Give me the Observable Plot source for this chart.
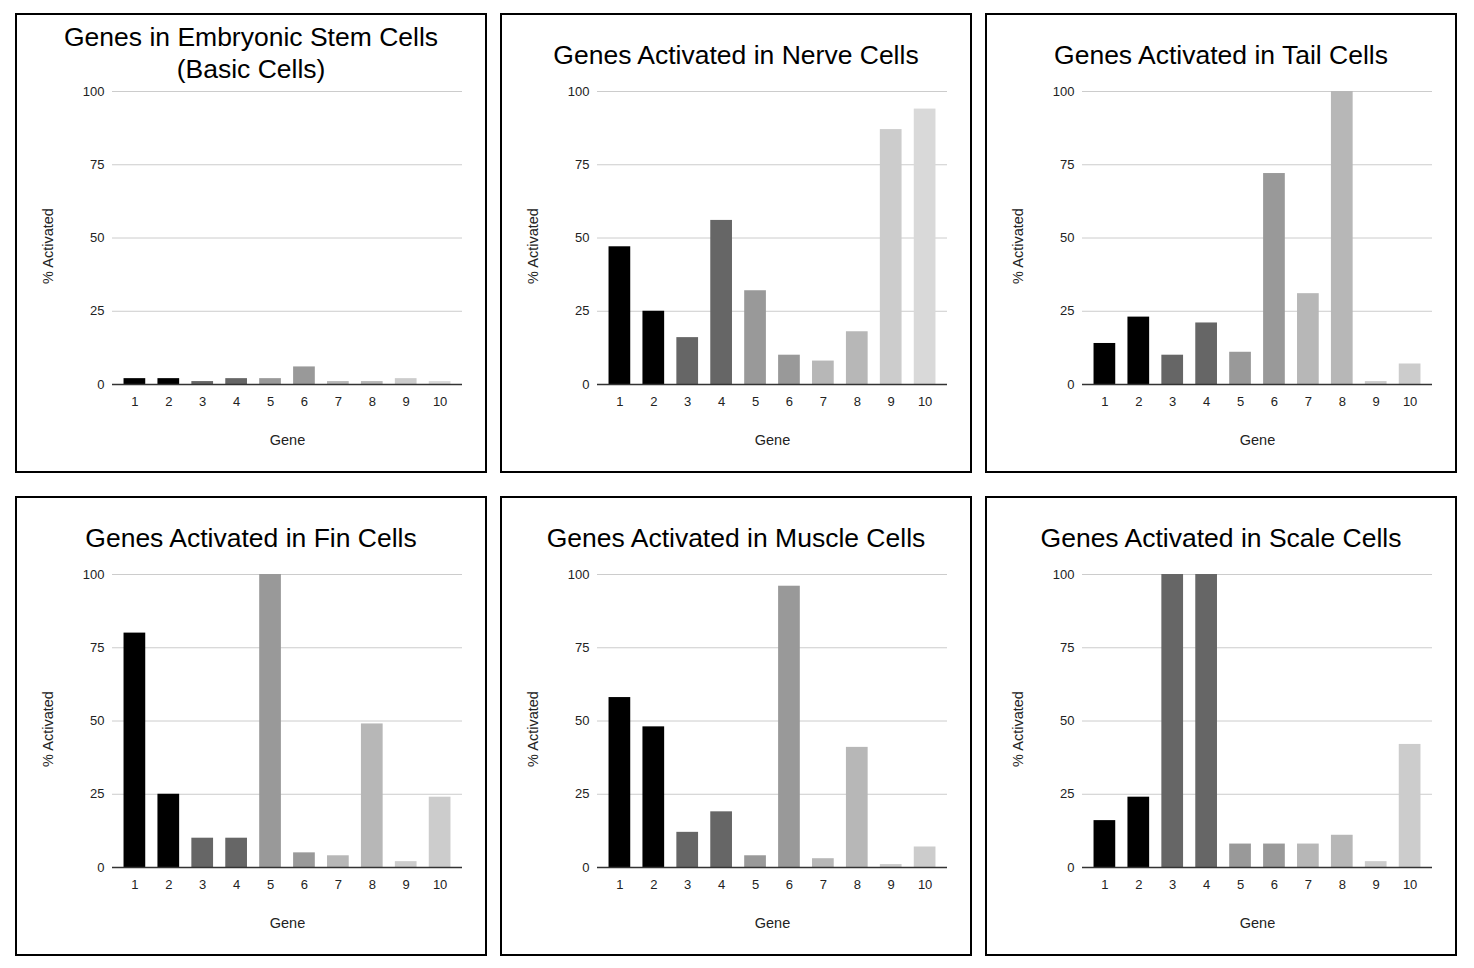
<!DOCTYPE html>
<html>
<head>
<meta charset="utf-8">
<script src="https://cdn.jsdelivr.net/npm/d3@7"></script>
<script src="https://cdn.jsdelivr.net/npm/@observablehq/plot@0.6"></script>
<style>
  html, body { margin: 0; padding: 0; background: #fff; }
  body { width: 1474px; height: 968px; position: relative; font-family: "Liberation Sans", Arial, sans-serif; }
  .panel { position: absolute; width: 472px; height: 460px; box-sizing: border-box; border: 2px solid #000; background: #fff; }
  .panel svg { position: absolute; left: 0; top: 0; }
  .panel svg text { font-family: "Liberation Sans", Arial, sans-serif; }
  .title { position: absolute; left: 0; width: 100%; text-align: center; font-size: 26.5px; line-height: 32px; color: #000; z-index: 2; }
</style>
</head>
<body>
<script>
const genes = ["1","2","3","4","5","6","7","8","9","10"];
const stem   = [2, 2, 1, 2, 2, 6, 1, 1, 2, 1];
const nerve  = [47, 25, 16, 56, 32, 10, 8, 18, 87, 94];
const tail   = [14, 23, 10, 21, 11, 72, 31, 100, 1, 7];
const fin    = [80, 25, 10, 10, 100, 5, 4, 49, 2, 24];
const muscle = [58, 48, 12, 19, 4, 96, 3, 41, 1, 7];
const scale  = [16, 24, 100, 100, 8, 8, 8, 11, 2, 42];
const yTicks = [0, 25, 50, 75, 100];
const shades      = ["#000000","#000000","#666666","#666666","#999999","#999999","#b7b7b7","#b7b7b7","#cccccc","#cccccc"];
const lightShades = ["#000000","#000000","#666666","#666666","#999999","#999999","#b7b7b7","#b7b7b7","#cccccc","#d9d9d9"];

const panels = [
  {title: ["Genes in Embryonic Stem Cells", "(Basic Cells)"], values: stem, colors: lightShades},
  {title: ["Genes Activated in Nerve Cells"], values: nerve, colors: lightShades},
  {title: ["Genes Activated in Tail Cells"], values: tail, colors: shades},
  {title: ["Genes Activated in Fin Cells"], values: fin, colors: shades},
  {title: ["Genes Activated in Muscle Cells"], values: muscle, colors: shades},
  {title: ["Genes Activated in Scale Cells"], values: scale, colors: shades}
];
const lefts = [15, 500, 985];
const tops = [13, 496];

panels.forEach((p, i) => {
  const div = document.createElement("div");
  div.className = "panel";
  div.style.left = lefts[i % 3] + "px";
  div.style.top = tops[Math.floor(i / 3)] + "px";
  const t = document.createElement("div");
  t.className = "title";
  t.style.top = (p.title.length > 1 ? 6 : 24) + "px";
  t.innerHTML = p.title.join("<br>");
  div.appendChild(t);

  const data = genes.map((g, k) => ({gene: g, value: p.values[k], color: p.colors[k]}));
  const chart = Plot.plot({
    width: 468,
    height: 456,
    marginLeft: 95,
    marginRight: 23,
    marginTop: 76,
    marginBottom: 87,
    style: "font-size:13px;font-family:'Liberation Sans',Arial,sans-serif;color:#222;background:transparent;",
    x: {domain: genes, paddingInner: 0.36, paddingOuter: 0.34, round: false, label: null},
    y: {domain: [0, 100], label: null},
    marks: [
      Plot.ruleY(yTicks, {stroke: "#cccccc", strokeWidth: 1}),
      Plot.barY(data, {x: "gene", y: "value", fill: "color"}),
      Plot.ruleY([0], {stroke: "#333333", strokeWidth: 1.3}),
      Plot.axisY({ticks: yTicks, tickSize: 0, tickPadding: 8, label: null, fontSize: 13}),
      Plot.axisX({tickSize: 0, tickPadding: 12, label: null, fontSize: 13}),
      Plot.text(["% Activated"], {frameAnchor: "left", textAnchor: "middle", lineAnchor: "middle", dx: -64, dy: 8, rotate: -90, fontSize: 14.5, fill: "#222"}),
      Plot.text(["Gene"], {frameAnchor: "bottom", lineAnchor: "middle", dy: 56, fontSize: 14.5, fill: "#222"})
    ]
  });
  div.appendChild(chart);
  document.body.appendChild(div);
});
</script>
</body>
</html>
